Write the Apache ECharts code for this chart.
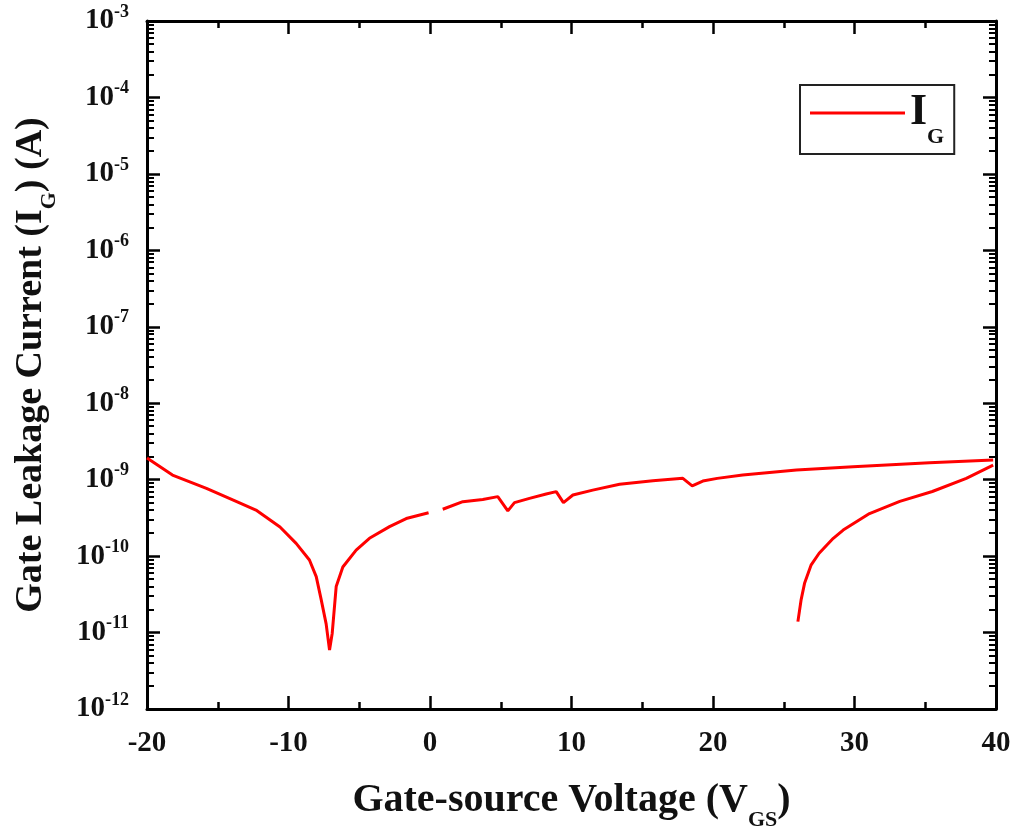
<!DOCTYPE html>
<html>
<head>
<meta charset="utf-8">
<script src="https://cdn.jsdelivr.net/npm/echarts@6/dist/echarts.min.js"></script>
<style>html,body{margin:0;padding:0;background:#fff}#c{width:1013px;height:833px}</style>
</head>
<body>
<div id="c"></div>
<script>
// Gate-source voltage (V) and |I_G| (A), three measured segments
var sweepA_V = [-20, -18.2, -15.8, -13.9, -12.3, -10.6, -9.46, -8.52, -8.04, -7.69, -7.34, -7.1, -6.91, -6.63, -6.16, -5.22, -4.28, -2.86, -1.68, -0.1];
var sweepA_I = [1.92e-9, 1.15e-9, 7.7e-10, 5.4e-10, 4.0e-10, 2.4e-10, 1.47e-10, 8.9e-11, 5.4e-11, 2.7e-11, 1.3e-11, 5.9e-12, 9.8e-12, 4.0e-11, 7.2e-11, 1.2e-10, 1.71e-10, 2.43e-10, 3.1e-10, 3.7e-10];
var sweepB_V = [0.9, 2.32, 3.73, 4.79, 5.5, 5.97, 7.03, 8.21, 8.92, 9.43, 10.1, 11.5, 13.4, 15.75, 17.87, 18.53, 19.28, 20.3, 22.1, 25.9, 29.9, 35.3, 39.8];
var sweepB_I = [4.1e-10, 5.15e-10, 5.5e-10, 6.0e-10, 3.9e-10, 5.0e-10, 5.7e-10, 6.5e-10, 6.97e-10, 5.0e-10, 6.3e-10, 7.3e-10, 8.7e-10, 9.7e-10, 1.04e-9, 8.3e-10, 9.6e-10, 1.04e-9, 1.15e-9, 1.34e-9, 1.48e-9, 1.67e-9, 1.81e-9];
var sweepC_V = [39.8, 37.9, 35.5, 33.2, 31.06, 29.2, 28.5, 27.5, 26.94, 26.47, 26.23, 26.0];
var sweepC_I = [1.55e-9, 1.04e-9, 7.0e-10, 5.2e-10, 3.6e-10, 2.19e-10, 1.71e-10, 1.09e-10, 7.7e-11, 4.4e-11, 2.7e-11, 1.39e-11];
var xTicks = [-20, -10, 0, 10, 20, 30, 40];
var yDecades = [-12, -11, -10, -9, -8, -7, -6, -5, -4, -3];

function pairs(xs, ys) { return xs.map(function (x, i) { return [x, ys[i]]; }); }

var FONT = '"Liberation Serif", "Times New Roman", serif';
var chart = echarts.init(document.getElementById('c'));

var axisLineStyle = { color: '#000', width: 3 };
function xAxisDef(pos, showLabel) {
  return {
    type: 'value', position: pos, min: xTicks[0], max: xTicks[xTicks.length - 1], interval: 10,
    axisLine: { show: true, onZero: false, lineStyle: axisLineStyle },
    axisTick: { show: true, inside: true, length: 13, lineStyle: { color: '#000', width: 2.5 } },
    minorTick: { show: true, splitNumber: 2, length: 7, lineStyle: { color: '#000', width: 2.5 } },
    splitLine: { show: false },
    axisLabel: { show: showLabel, color: '#111', fontFamily: FONT, fontWeight: 'bold', fontSize: 29, margin: 20 },
    name: showLabel ? '{t|Gate-source Voltage (V}{s|GS}{t|)}' : '',
    nameLocation: 'middle', nameGap: 72,
    nameTextStyle: { rich: {
      t: { fontFamily: FONT, fontWeight: 'bold', fontSize: 40, color: '#111' },
      s: { fontFamily: FONT, fontWeight: 'bold', fontSize: 22, color: '#111', verticalAlign: 'bottom', padding: [0, 0, -10, 0] }
    } }
  };
}
function yAxisDef(pos, showLabel) {
  return {
    type: 'log', logBase: 10, position: pos, min: Math.pow(10, yDecades[0]), max: Math.pow(10, yDecades[yDecades.length - 1]),
    axisLine: { show: true, onZero: false, lineStyle: axisLineStyle },
    axisTick: { show: true, inside: true, length: 13, lineStyle: { color: '#000', width: 2.5 } },
    minorTick: { show: true, splitNumber: 9, length: 7, lineStyle: { color: '#000', width: 2 } },
    splitLine: { show: false },
    axisLabel: {
      show: showLabel, margin: 18,
      formatter: function (v) { return '{b|10}{e|' + Math.round(Math.log10(v)) + '}'; },
      rich: {
        b: { fontFamily: FONT, fontWeight: 'bold', fontSize: 29, color: '#111', lineHeight: 36 },
        e: { fontFamily: FONT, fontWeight: 'bold', fontSize: 18, color: '#111', verticalAlign: 'top', lineHeight: 36, padding: [0, 0, 12, 0] }
      }
    },
    name: showLabel ? '{t|Gate Leakage Current (I}{s|G}{t|) (A)}' : '',
    nameLocation: 'middle', nameGap: 97, nameRotate: 90,
    nameTextStyle: { rich: {
      t: { fontFamily: FONT, fontWeight: 'bold', fontSize: 38, color: '#111' },
      s: { fontFamily: FONT, fontWeight: 'bold', fontSize: 22, color: '#111', verticalAlign: 'bottom', padding: [0, 0, -10, 0] }
    } }
  };
}

var lineCommon = { type: 'line', name: 'IG', symbol: 'none', xAxisIndex: 0, yAxisIndex: 0,
  lineStyle: { color: '#ff0000', width: 3 }, itemStyle: { color: '#ff0000' }, z: 5 };

chart.setOption({
  animation: false,
  backgroundColor: '#fff',
  grid: { left: 147, right: 17, top: 21, bottom: 124, containLabel: false, outerBoundsMode: 'none' },
  xAxis: [xAxisDef('bottom', true), xAxisDef('top', false)],
  yAxis: [yAxisDef('left', true), yAxisDef('right', false)],
  legend: {
    data: [{ name: 'IG', icon: 'rect' }], left: 800, top: 85, orient: 'vertical',
    borderColor: '#222', borderWidth: 2, padding: [6, 10, 6, 10],
    itemWidth: 95, itemHeight: 3, itemGap: 0,
    formatter: function () { return '{i|I}{g|G}'; },
    textStyle: { rich: {
      i: { fontFamily: FONT, fontWeight: 'bold', fontSize: 44, color: '#111', lineHeight: 50 },
      g: { fontFamily: FONT, fontWeight: 'bold', fontSize: 22, color: '#111', verticalAlign: 'bottom', lineHeight: 50, padding: [0, 0, -10, 0] }
    } }
  },
  series: [
    Object.assign({}, lineCommon, { data: pairs(sweepA_V, sweepA_I) }),
    Object.assign({}, lineCommon, { data: pairs(sweepB_V, sweepB_I) }),
    Object.assign({}, lineCommon, { data: pairs(sweepC_V, sweepC_I) })
  ]
});
</script>
</body>
</html>
